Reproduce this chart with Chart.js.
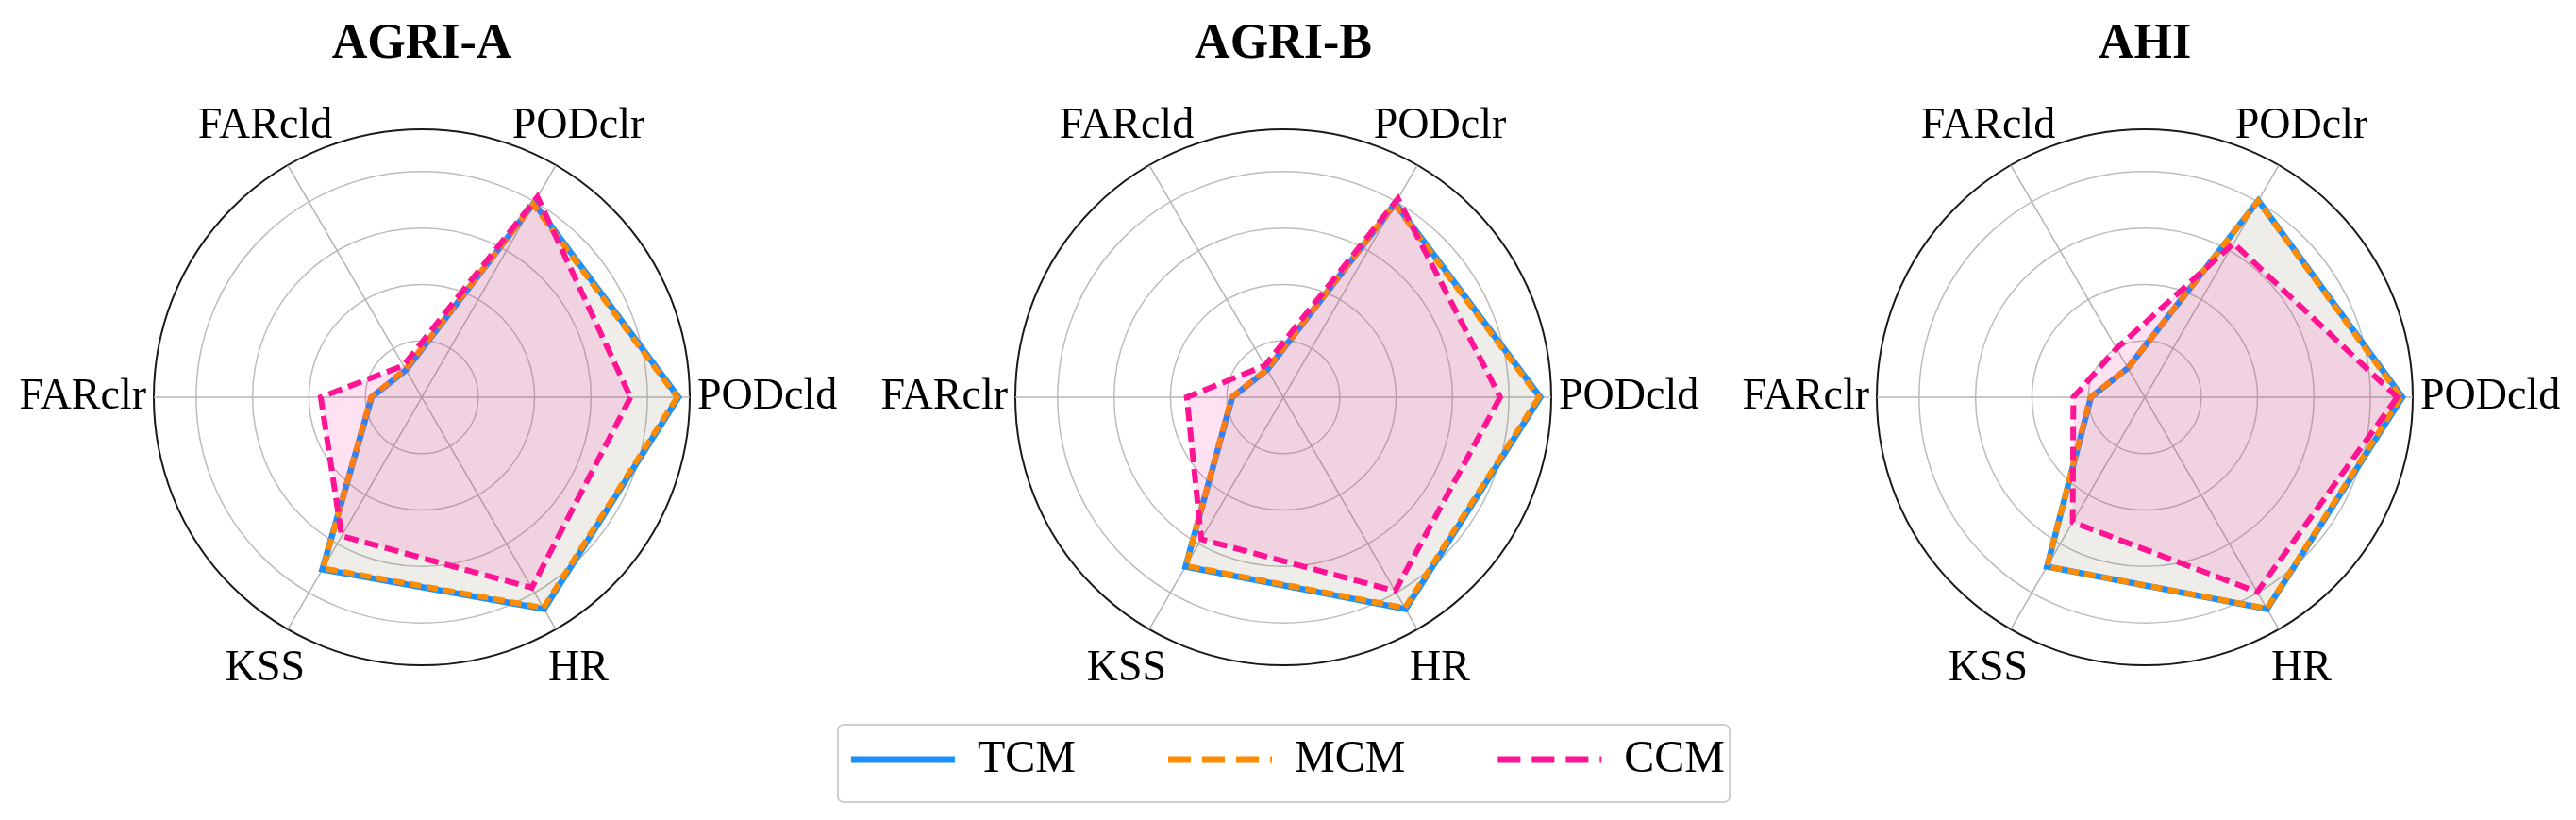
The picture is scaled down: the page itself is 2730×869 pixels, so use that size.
<!DOCTYPE html>
<html>
<head>
<meta charset="utf-8">
<script src="https://cdn.jsdelivr.net/npm/chart.js@4.4.0/dist/chart.umd.min.js"></script>
<style>
  html, body { margin: 0; padding: 0; background: #fff; }
  #page { position: relative; width: 2730px; height: 869px; overflow: hidden; }
  canvas { position: absolute; top: 0; }
</style>
</head>
<body>
<div id="page">
  <canvas id="radarA" width="890" height="869" style="left:2px"></canvas>
  <canvas id="radarB" width="890" height="869" style="left:915px"></canvas>
  <canvas id="radarC" width="890" height="869" style="left:1828px"></canvas>
  <canvas id="legendCanvas" width="1300" height="560" style="left:715px; top:683px"></canvas>
</div>
<script>
// --- DATA ---
// axes listed clockwise starting at the right (PODcld)
const metrics = ['PODcld', 'HR', 'KSS', 'FARclr', 'FARcld', 'PODclr'];
const ringValues = [0, 0.2, 0.4, 0.6, 0.8, 0.95];
const panelTitles = ['AGRI-A', 'AGRI-B', 'AHI'];
const methods = ['TCM', 'MCM', 'CCM'];

const agriA_TCM = [0.910, 0.867, 0.705, 0.178, 0.112, 0.795];
const agriA_MCM = [0.905, 0.862, 0.700, 0.180, 0.115, 0.790];
const agriA_CCM = [0.740, 0.780, 0.568, 0.358, 0.130, 0.820];

const agriB_TCM = [0.911, 0.867, 0.693, 0.181, 0.113, 0.794];
const agriB_MCM = [0.906, 0.862, 0.690, 0.183, 0.115, 0.790];
const agriB_CCM = [0.769, 0.793, 0.581, 0.342, 0.130, 0.813];

const ahi_TCM = [0.913, 0.867, 0.693, 0.191, 0.120, 0.805];
const ahi_MCM = [0.908, 0.865, 0.693, 0.193, 0.120, 0.803];
const ahi_CCM = [0.895, 0.797, 0.511, 0.253, 0.200, 0.630];

// --- STYLE ---
const FONT = "'Liberation Serif', 'Times New Roman', serif";
Chart.defaults.font.family = FONT;
Chart.defaults.color = '#000';

const methodStyles = {
  TCM: { color: '#1a90ff', fill: 'rgba(120,120,120,0.12)', width: 6.5, dash: [], legendDash: [] },
  MCM: { color: '#ff8c00', fill: 'rgba(255,140,0,0.02)', width: 6, dash: [12, 6], legendDash: [24, 12] },
  CCM: { color: '#ff1493', fill: 'rgba(255,20,147,0.12)', width: 6, dash: [15, 7], legendDash: [24, 12] }
};

// axis names drawn around the rim, positioned through the radial scale
const axisLabelPlugin = {
  id: 'axisLabels',
  afterDraw(chart) {
    const scale = chart.scales.r;
    const ctx = chart.ctx;
    ctx.save();
    ctx.font = '46px ' + FONT;
    ctx.fillStyle = '#000';
    ctx.textBaseline = 'middle';
    metrics.forEach((name, i) => {
      const angle = scale.getPointPosition(i, 0).angle;
      const side = Math.abs(Math.sin(angle)) < 0.01;
      const p = scale.getPointPosition(i, scale.drawingArea + (side ? 8 : 48));
      ctx.textAlign = side ? (Math.cos(angle) > 0 ? 'left' : 'right') : 'center';
      ctx.fillText(name, p.x, p.y);
    });
    ctx.restore();
  }
};

function makeRadar(canvasId, title, series) {
  const datasets = methods.map((m, i) => ({
    label: m,
    data: series[i],
    borderColor: methodStyles[m].color,
    backgroundColor: methodStyles[m].fill,
    borderWidth: methodStyles[m].width,
    borderDash: methodStyles[m].dash,
    fill: true,
    pointRadius: 0,
    order: methods.length - i
  }));

  return new Chart(document.getElementById(canvasId), {
    type: 'radar',
    data: { labels: metrics, datasets: datasets },
    options: {
      responsive: false,
      animation: false,
      events: [],
      layout: { padding: { left: 161, right: 161, top: 0, bottom: 164 } },
      elements: { line: { tension: 0 } },
      plugins: {
        legend: { display: false },
        tooltip: { enabled: false },
        title: {
          display: true,
          text: title,
          color: '#000',
          font: { size: 52, weight: 'bold', lineHeight: 1.2 },
          padding: { top: 16, bottom: 58.6 }
        }
      },
      scales: {
        r: {
          min: 0,
          max: 0.95,
          startAngle: 90,
          afterBuildTicks: s => { s.ticks = ringValues.map(v => ({ value: v })); },
          ticks: { display: false },
          pointLabels: { display: false },
          angleLines: { color: '#b4b4b4', lineWidth: 1.5 },
          grid: {
            circular: true,
            color: c => (c.tick && c.tick.value >= 0.95 ? '#1a1a1a' : '#bcbcbc'),
            lineWidth: c => (c.tick && c.tick.value >= 0.95 ? 2 : 1.5)
          }
        }
      }
    },
    plugins: [axisLabelPlugin]
  });
}

makeRadar('radarA', panelTitles[0], [agriA_TCM, agriA_MCM, agriA_CCM]);
makeRadar('radarB', panelTitles[1], [agriB_TCM, agriB_MCM, agriB_CCM]);
makeRadar('radarC', panelTitles[2], [ahi_TCM, ahi_MCM, ahi_CCM]);

// --- SHARED LEGEND ---
const legendFramePlugin = {
  id: 'legendFrame',
  afterDraw(chart) {
    const boxes = chart.legend.legendHitBoxes;
    if (!boxes || !boxes.length) return;
    const first = boxes[0];
    const last = boxes[boxes.length - 1];
    const cy = first.top + first.height / 2;
    const x0 = first.left - 14;
    const x1 = last.left + last.width + 5;
    const y0 = cy - 37;
    const y1 = cy + 45;
    const ctx = chart.ctx;
    ctx.save();
    ctx.strokeStyle = '#cfcfcf';
    ctx.lineWidth = 2;
    ctx.beginPath();
    ctx.roundRect(x0, y0, x1 - x0, y1 - y0, 6);
    ctx.stroke();
    ctx.restore();
  }
};

new Chart(document.getElementById('legendCanvas'), {
  type: 'line',
  data: {
    labels: [],
    datasets: methods.map(m => ({
      label: m,
      data: [],
      borderColor: methodStyles[m].color,
      backgroundColor: methodStyles[m].color,
      borderWidth: 7,
      borderDash: methodStyles[m].legendDash
    }))
  },
  options: {
    responsive: false,
    animation: false,
    events: [],
    scales: { x: { display: false }, y: { display: false } },
    plugins: {
      tooltip: { enabled: false },
      legend: {
        display: true,
        position: 'top',
        labels: {
          usePointStyle: true,
          pointStyle: 'line',
          pointStyleWidth: 110,
          boxWidth: 110,
          padding: 98,
          color: '#000',
          font: { size: 48 },
          generateLabels: chart => chart.data.datasets.map((ds, i) => ({
            text: ds.label,
            fillStyle: ds.borderColor,
            strokeStyle: ds.borderColor,
            lineWidth: ds.borderWidth,
            lineDash: ds.borderDash,
            lineCap: 'butt',
            pointStyle: 'line',
            fontColor: '#000',
            hidden: false,
            datasetIndex: i
          }))
        }
      }
    }
  },
  plugins: [legendFramePlugin]
});
</script>
</body>
</html>
